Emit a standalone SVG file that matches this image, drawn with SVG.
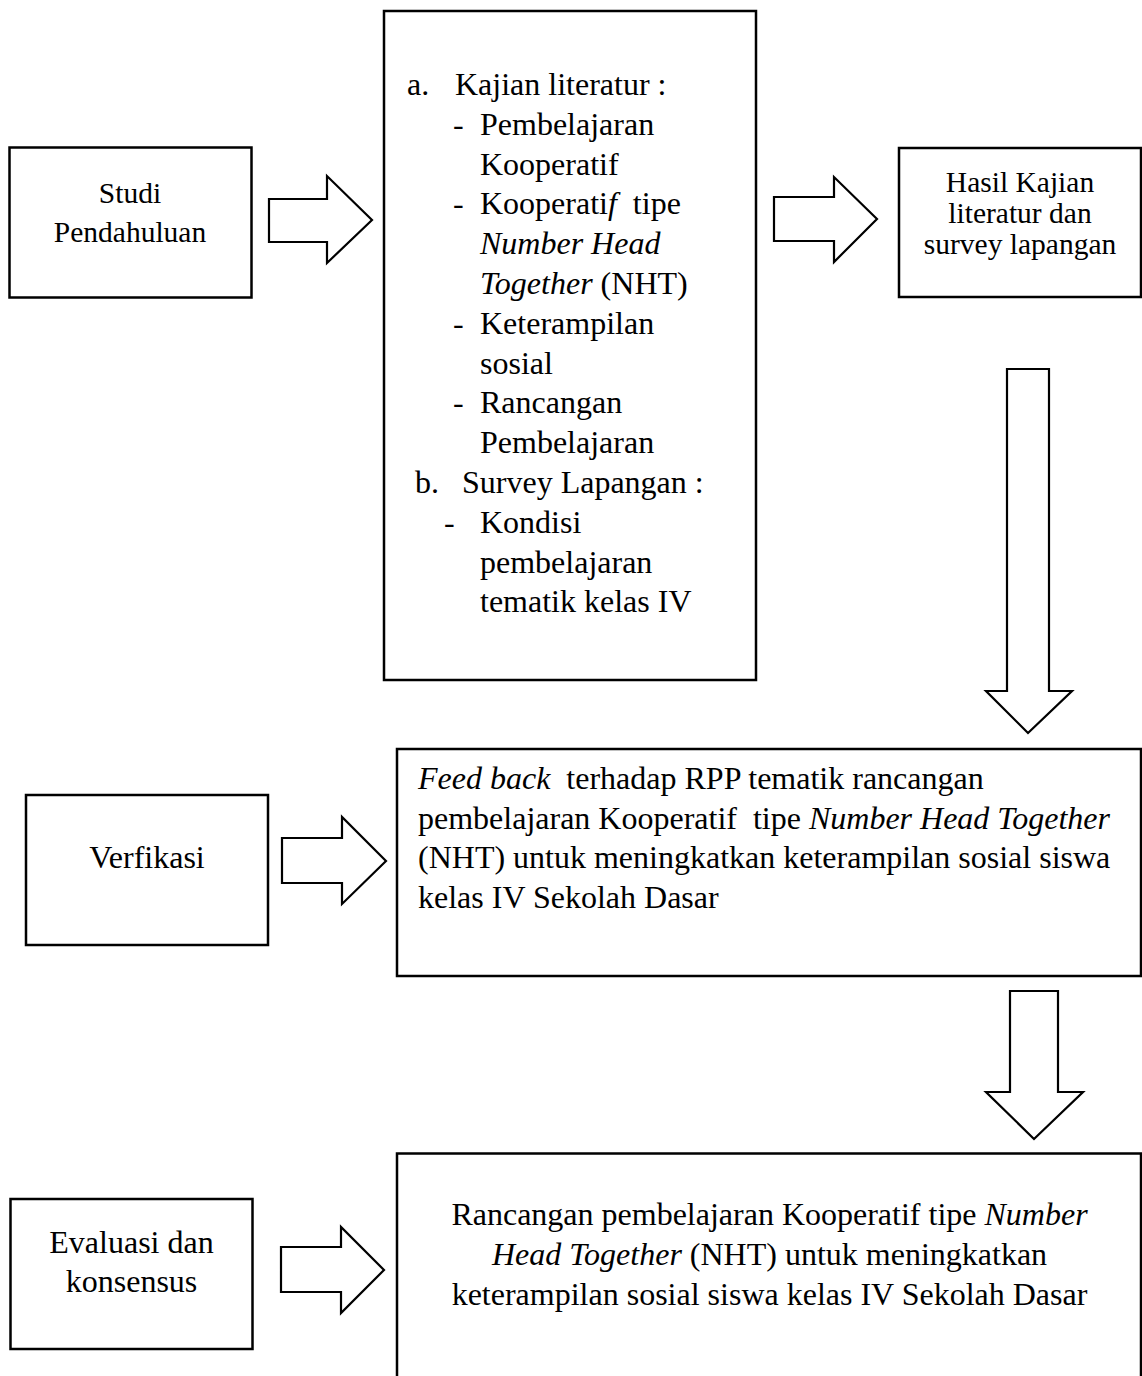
<svg xmlns="http://www.w3.org/2000/svg" width="1142" height="1376" viewBox="0 0 1142 1376">
<style>
  .box { fill: #ffffff; stroke: #000000; stroke-width: 2.5; }
  .arrow { fill: #ffffff; stroke: #000000; stroke-width: 2.2; stroke-linejoin: miter; }
  text { font-family: "Liberation Serif", "Times New Roman", serif; fill: #000000; }
  .t32 { font-size: 32px; }
  .t29 { font-size: 29.5px; }
  .mid { text-anchor: middle; }
  .it { font-style: italic; }
</style>
<rect x="0" y="0" width="1142" height="1376" fill="#ffffff"/>

<g id="connectors">
  <polygon class="arrow" points="269,199 327,199 327,176 372,220 327,263 327,242 269,242"/>
  <polygon class="arrow" points="774,197 834,197 834,177 877,219 834,262 834,241 774,241"/>
  <polygon class="arrow" points="1007,369 1049,369 1049,691 1072,691 1028,733 986,691 1007,691"/>
  <polygon class="arrow" points="282,838 342,838 342,817 386,861 342,904 342,883 282,883"/>
  <polygon class="arrow" points="1010,991 1058,991 1058,1092 1083,1092 1034,1139 986,1092 1010,1092"/>
  <polygon class="arrow" points="281,1247 341,1247 341,1227 384,1270 341,1313 341,1292 281,1292"/>
</g>

<g id="studi-pendahuluan">
  <rect class="box" x="9.5" y="147.5" width="242" height="150"/>
  <text class="t29 mid" x="130" y="203">Studi</text>
  <text class="t29 mid" x="130" y="242">Pendahuluan</text>
</g>

<g id="kajian-survey">
  <rect class="box" x="384" y="11" width="372" height="669"/>
  <text class="t32" x="407" y="95">a.</text>
  <text class="t32" x="455" y="95">Kajian literatur :</text>
  <text class="t32" x="453" y="135">-</text>
  <text class="t32" x="480" y="135">Pembelajaran</text>
  <text class="t32" x="480" y="174.6">Kooperatif</text>
  <text class="t32" x="453" y="214.4">-</text>
  <text class="t32" x="480" y="214.4" xml:space="preserve">Kooperati<tspan class="it">f</tspan>  tipe</text>
  <text class="t32 it" x="480" y="254.2">Number Head</text>
  <text class="t32" x="480" y="294"><tspan class="it">Together</tspan> (NHT)</text>
  <text class="t32" x="453" y="333.8">-</text>
  <text class="t32" x="480" y="333.8">Keterampilan</text>
  <text class="t32" x="480" y="373.6">sosial</text>
  <text class="t32" x="453" y="413.4">-</text>
  <text class="t32" x="480" y="413.4">Rancangan</text>
  <text class="t32" x="480" y="453.2">Pembelajaran</text>
  <text class="t32" x="415" y="493">b.</text>
  <text class="t32" x="462" y="493">Survey Lapangan :</text>
  <text class="t32" x="444" y="532.8">-</text>
  <text class="t32" x="480" y="532.8">Kondisi</text>
  <text class="t32" x="480" y="572.6">pembelajaran</text>
  <text class="t32" x="480" y="612.4">tematik kelas IV</text>
</g>

<g id="hasil-kajian">
  <rect class="box" x="899" y="148" width="242" height="149"/>
  <text class="t29 mid" x="1020" y="192">Hasil Kajian</text>
  <text class="t29 mid" x="1020" y="223">literatur dan</text>
  <text class="t29 mid" x="1020" y="254">survey lapangan</text>
</g>

<g id="verfikasi">
  <rect class="box" x="26" y="795" width="242" height="150"/>
  <text class="t32 mid" x="147" y="868">Verfikasi</text>
</g>

<g id="feedback">
  <rect class="box" x="397" y="749" width="744" height="227"/>
  <text class="t32" x="418" y="789" xml:space="preserve"><tspan class="it">Feed back</tspan>  terhadap RPP tematik rancangan</text>
  <text class="t32" x="418" y="828.5" xml:space="preserve">pembelajaran Kooperatif  tipe <tspan class="it">Number Head Together</tspan></text>
  <text class="t32" x="418" y="868">(NHT) untuk meningkatkan keterampilan sosial siswa</text>
  <text class="t32" x="418" y="907.5">kelas IV Sekolah Dasar</text>
</g>

<g id="evaluasi-konsensus">
  <rect class="box" x="10.5" y="1199" width="242" height="150"/>
  <text class="t32 mid" x="131.5" y="1253">Evaluasi dan</text>
  <text class="t32 mid" x="131.5" y="1292">konsensus</text>
</g>

<g id="rancangan-final">
  <rect class="box" x="397" y="1153.5" width="744" height="260"/>
  <text class="t32 mid" x="769.5" y="1225">Rancangan pembelajaran Kooperatif tipe <tspan class="it">Number</tspan></text>
  <text class="t32 mid" x="769.5" y="1265"><tspan class="it">Head Together</tspan> (NHT) untuk meningkatkan</text>
  <text class="t32 mid" x="769.5" y="1305">keterampilan sosial siswa kelas IV Sekolah Dasar</text>
</g>
</svg>
